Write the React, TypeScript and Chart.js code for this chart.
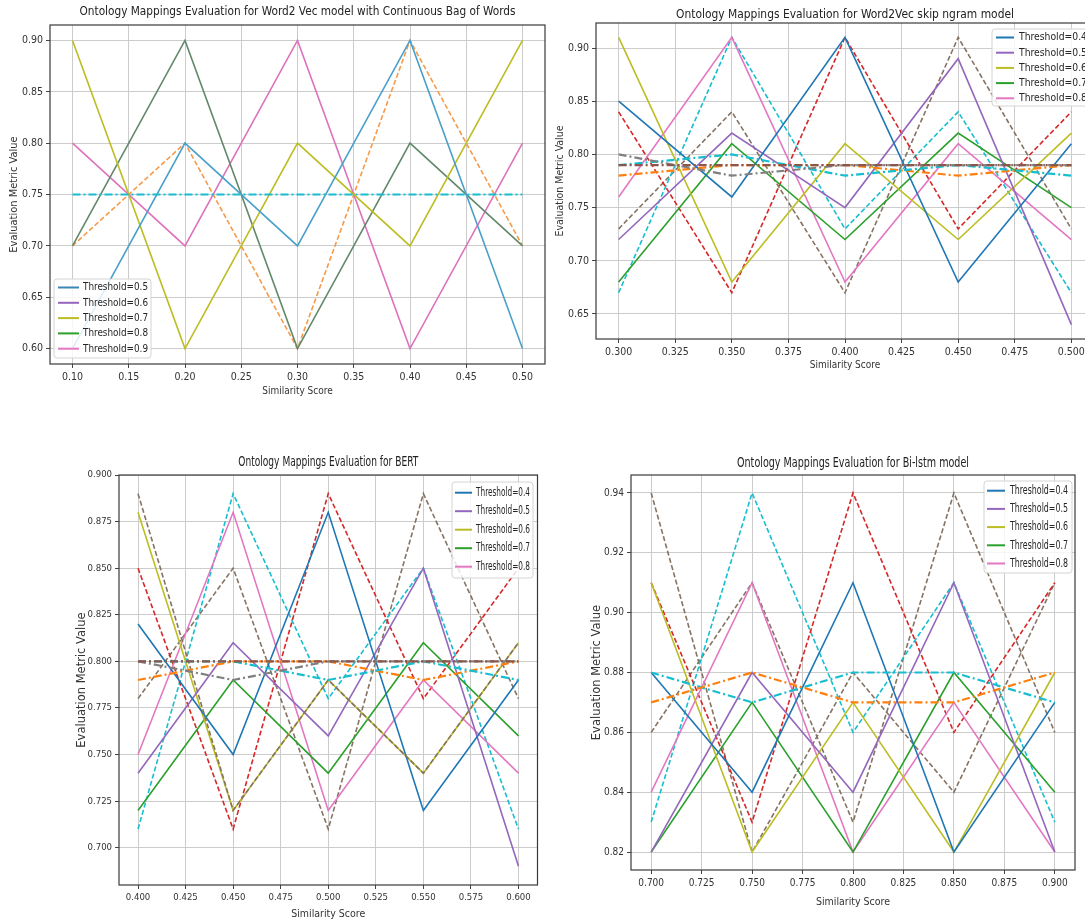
import React, { useEffect, useRef } from "react";
import { Chart, registerables } from "chart.js";

Chart.register(...registerables);

// ---------------- DATA ----------------
// Word2Vec CBOW
const CBOW_X = [0.1, 0.2, 0.3, 0.4, 0.5];
const CBOW_X_TICKS = [0.1, 0.15, 0.2, 0.25, 0.3, 0.35, 0.4, 0.45, 0.5];
const CBOW_Y_TICKS = [0.6, 0.65, 0.7, 0.75, 0.8, 0.85, 0.9];
const CBOW_LEGEND = ["Threshold=0.5", "Threshold=0.6", "Threshold=0.7", "Threshold=0.8", "Threshold=0.9"];
const CBOW_BLUE = [0.6, 0.8, 0.7, 0.9, 0.6];
const CBOW_OLIVE = [0.9, 0.6, 0.8, 0.7, 0.9];
const CBOW_GREEN = [0.7, 0.9, 0.6, 0.8, 0.7];
const CBOW_PINK = [0.8, 0.7, 0.9, 0.6, 0.8];
const CBOW_ORANGE_DASH = [0.7, 0.8, 0.6, 0.9, 0.7];
const CBOW_CYAN_DASHDOT = [0.75, 0.75, 0.75, 0.75, 0.75];

// Word2Vec skip-gram
const SKIP_X = [0.3, 0.35, 0.4, 0.45, 0.5];
const SKIP_X_TICKS = [0.3, 0.325, 0.35, 0.375, 0.4, 0.425, 0.45, 0.475, 0.5];
const SKIP_Y_TICKS = [0.65, 0.7, 0.75, 0.8, 0.85, 0.9];
const SKIP_LEGEND = ["Threshold=0.4", "Threshold=0.5", "Threshold=0.6", "Threshold=0.7", "Threshold=0.8"];
const SKIP_BLUE = [0.85, 0.76, 0.91, 0.68, 0.81];
const SKIP_PURPLE = [0.72, 0.82, 0.75, 0.89, 0.64];
const SKIP_OLIVE = [0.91, 0.68, 0.81, 0.72, 0.82];
const SKIP_GREEN = [0.68, 0.81, 0.72, 0.82, 0.75];
const SKIP_PINK = [0.76, 0.91, 0.68, 0.81, 0.72];
const SKIP_RED_DASH = [0.84, 0.67, 0.91, 0.73, 0.84];
const SKIP_CYAN_DASH = [0.67, 0.91, 0.73, 0.84, 0.67];
const SKIP_GRAY_DASH = [0.73, 0.84, 0.67, 0.91, 0.73];
const SKIP_ORANGE_DD = [0.78, 0.79, 0.79, 0.78, 0.79];
const SKIP_CYAN_DD = [0.79, 0.8, 0.78, 0.79, 0.78];
const SKIP_GRAY_DD = [0.8, 0.78, 0.79, 0.79, 0.79];
const SKIP_BROWN_DD = [0.79, 0.79, 0.79, 0.79, 0.79];

// BERT
const BERT_X = [0.4, 0.45, 0.5, 0.55, 0.6];
const BERT_X_TICKS = [0.4, 0.425, 0.45, 0.475, 0.5, 0.525, 0.55, 0.575, 0.6];
const BERT_Y_TICKS = [0.7, 0.725, 0.75, 0.775, 0.8, 0.825, 0.85, 0.875, 0.9];
const BERT_LEGEND = ["Threshold=0.4", "Threshold=0.5", "Threshold=0.6", "Threshold=0.7", "Threshold=0.8"];
const BERT_BLUE = [0.82, 0.75, 0.88, 0.72, 0.79];
const BERT_PURPLE = [0.74, 0.81, 0.76, 0.85, 0.69];
const BERT_OLIVE = [0.88, 0.72, 0.79, 0.74, 0.81];
const BERT_GREEN = [0.72, 0.79, 0.74, 0.81, 0.76];
const BERT_PINK = [0.75, 0.88, 0.72, 0.79, 0.74];
const BERT_RED_DASH = [0.85, 0.71, 0.89, 0.78, 0.85];
const BERT_CYAN_DASH = [0.71, 0.89, 0.78, 0.85, 0.71];
const BERT_BROWN_DASH = [0.78, 0.85, 0.71, 0.89, 0.78];
const BERT_GRAY_DASH = [0.89, 0.72, 0.79, 0.74, 0.81];
const BERT_ORANGE_DD = [0.79, 0.8, 0.8, 0.79, 0.8];
const BERT_CYAN_DD = [0.8, 0.8, 0.79, 0.8, 0.79];
const BERT_GRAY_DD = [0.8, 0.79, 0.8, 0.8, 0.8];
const BERT_BROWN_DD = [0.8, 0.8, 0.8, 0.8, 0.8];

// Bi-LSTM
const LSTM_X = [0.7, 0.75, 0.8, 0.85, 0.9];
const LSTM_X_TICKS = [0.7, 0.725, 0.75, 0.775, 0.8, 0.825, 0.85, 0.875, 0.9];
const LSTM_Y_TICKS = [0.82, 0.84, 0.86, 0.88, 0.9, 0.92, 0.94];
const LSTM_LEGEND = ["Threshold=0.4", "Threshold=0.5", "Threshold=0.6", "Threshold=0.7", "Threshold=0.8"];
const LSTM_BLUE = [0.88, 0.84, 0.91, 0.82, 0.87];
const LSTM_PURPLE = [0.82, 0.88, 0.84, 0.91, 0.82];
const LSTM_OLIVE = [0.91, 0.82, 0.87, 0.82, 0.88];
const LSTM_GREEN = [0.82, 0.87, 0.82, 0.88, 0.84];
const LSTM_PINK = [0.84, 0.91, 0.82, 0.87, 0.82];
const LSTM_RED_DASH = [0.91, 0.83, 0.94, 0.86, 0.91];
const LSTM_CYAN_DASH = [0.83, 0.94, 0.86, 0.91, 0.83];
const LSTM_BROWN_DASH = [0.86, 0.91, 0.83, 0.94, 0.86];
const LSTM_GRAY_DASH = [0.94, 0.82, 0.88, 0.84, 0.91];
const LSTM_ORANGE_DD = [0.87, 0.88, 0.87, 0.87, 0.88];
const LSTM_CYAN_DD = [0.88, 0.87, 0.88, 0.88, 0.87];

// ---------------- STYLE ----------------
const C = {
  blue: "#1f77b4",
  orange: "#ff7f0e",
  green: "#2ca02c",
  red: "#d62728",
  purple: "#9467bd",
  brown: "#8c564b",
  pink: "#e377c2",
  gray: "#7f7f7f",
  olive: "#bcbd22",
  cyan: "#17becf",
};
const TAB_LEGEND = [C.blue, C.purple, C.olive, C.green, C.pink];
const FONT = "'Liberation Sans Narrow', 'DejaVu Sans Condensed', 'Liberation Sans', sans-serif";
const YFONT = "'DejaVu Sans', sans-serif";

type Kind = "solid" | "dash" | "dashdot";
type Series = { data: number[]; color: string; kind: Kind };

type Spec = {
  canvas: { left: number; top: number; width: number; height: number };
  frame: { l: number; t: number; r: number; b: number };
  title: string;
  titleY: number;
  titleSize: number;
  titleWidth: number;
  xLabelY: number;
  yLabelX: number;
  labelSize: number;
  yLabelSize: number;
  yLabelFont: string;
  tickSize: number;
  xRange: [number, number];
  yRange: [number, number];
  xs: number[];
  xTicks: number[];
  yTicks: number[];
  xDigits: number;
  yDigits: number;
  series: Series[];
  legend: {
    labels: string[];
    colors: string[];
    box: { l: number; t: number; r: number; b: number };
    row0: number;
    rowStep: number;
    line0: number;
    line1: number;
    textX: number;
    textW: number;
    size: number;
  };
};

const S = (data: number[], color: string, kind: Kind): Series => ({ data, color, kind });

const PLOTS: Spec[] = [
  {
    canvas: { left: 0, top: 0, width: 552, height: 400 },
    frame: { l: 50, t: 25, r: 545, b: 364 },
    title: "Ontology Mappings Evaluation for Word2 Vec model with Continuous Bag of Words",
    titleY: 12,
    titleSize: 13,
    titleWidth: 436,
    xLabelY: 391,
    yLabelX: 14,
    labelSize: 10,
    yLabelSize: 11,
    yLabelFont: FONT,
    tickSize: 10.5,
    xRange: [0.08, 0.52],
    yRange: [0.585, 0.915],
    xs: CBOW_X,
    xTicks: CBOW_X_TICKS,
    yTicks: CBOW_Y_TICKS,
    xDigits: 2,
    yDigits: 2,
    series: [
      S(CBOW_CYAN_DASHDOT, C.cyan, "dashdot"),
      S(CBOW_BLUE, "#4aa0c9", "solid"),
      S(CBOW_OLIVE, C.olive, "solid"),
      S(CBOW_GREEN, "#62896b", "solid"),
      S(CBOW_PINK, "#de72bd", "solid"),
      S(CBOW_ORANGE_DASH, "#f59a4a", "dash"),
    ],
    legend: {
      labels: CBOW_LEGEND,
      colors: ["#3b86b8", C.purple, C.olive, C.green, C.pink],
      box: { l: 54, t: 279, r: 151, b: 358 },
      row0: 287.5,
      rowStep: 15.3,
      line0: 58,
      line1: 79,
      textX: 83,
      textW: 65,
      size: 11,
    },
  },
  {
    canvas: { left: 548, top: 0, width: 562, height: 380 },
    frame: { l: 596, t: 23, r: 1094, b: 339 },
    title: "Ontology Mappings Evaluation for Word2Vec skip ngram model",
    titleY: 15,
    titleSize: 13,
    titleWidth: 338,
    xLabelY: 365,
    yLabelX: 560,
    labelSize: 10,
    yLabelSize: 10.5,
    yLabelFont: FONT,
    tickSize: 10.5,
    xRange: [0.29, 0.51],
    yRange: [0.6265, 0.9235],
    xs: SKIP_X,
    xTicks: SKIP_X_TICKS,
    yTicks: SKIP_Y_TICKS,
    xDigits: 3,
    yDigits: 2,
    series: [
      S(SKIP_BROWN_DD, C.brown, "dashdot"),
      S(SKIP_GRAY_DD, C.gray, "dashdot"),
      S(SKIP_CYAN_DD, C.cyan, "dashdot"),
      S(SKIP_ORANGE_DD, C.orange, "dashdot"),
      S(SKIP_BLUE, C.blue, "solid"),
      S(SKIP_PURPLE, C.purple, "solid"),
      S(SKIP_OLIVE, C.olive, "solid"),
      S(SKIP_GREEN, C.green, "solid"),
      S(SKIP_PINK, C.pink, "solid"),
      S(SKIP_RED_DASH, C.red, "dash"),
      S(SKIP_CYAN_DASH, C.cyan, "dash"),
      S(SKIP_GRAY_DASH, "#857363", "dash"),
    ],
    legend: {
      labels: SKIP_LEGEND,
      colors: TAB_LEGEND,
      box: { l: 992, t: 29, r: 1104, b: 106 },
      row0: 37.5,
      rowStep: 15.2,
      line0: 996,
      line1: 1014,
      textX: 1019,
      textW: 68,
      size: 11,
    },
  },
  {
    canvas: { left: 70, top: 445, width: 475, height: 477 },
    frame: { l: 119, t: 475, r: 537.5, b: 885 },
    title: "Ontology Mappings Evaluation for BERT",
    titleY: 462,
    titleSize: 14.5,
    titleWidth: 180,
    xLabelY: 914,
    yLabelX: 82,
    labelSize: 10.5,
    yLabelSize: 11.5,
    yLabelFont: YFONT,
    tickSize: 9.5,
    xRange: [0.39, 0.61],
    yRange: [0.68, 0.9],
    xs: BERT_X,
    xTicks: BERT_X_TICKS,
    yTicks: BERT_Y_TICKS,
    xDigits: 3,
    yDigits: 3,
    series: [
      S(BERT_BROWN_DD, C.brown, "dashdot"),
      S(BERT_GRAY_DD, C.gray, "dashdot"),
      S(BERT_CYAN_DD, C.cyan, "dashdot"),
      S(BERT_ORANGE_DD, C.orange, "dashdot"),
      S(BERT_GRAY_DASH, "#857363", "dash"),
      S(BERT_BLUE, C.blue, "solid"),
      S(BERT_PURPLE, C.purple, "solid"),
      S(BERT_OLIVE, C.olive, "solid"),
      S(BERT_GREEN, C.green, "solid"),
      S(BERT_PINK, C.pink, "solid"),
      S(BERT_RED_DASH, C.red, "dash"),
      S(BERT_CYAN_DASH, C.cyan, "dash"),
      S(BERT_BROWN_DASH, "#857363", "dash"),
    ],
    legend: {
      labels: BERT_LEGEND,
      colors: TAB_LEGEND,
      box: { l: 452, t: 482, r: 533, b: 578 },
      row0: 492.7,
      rowStep: 18.5,
      line0: 455,
      line1: 472,
      textX: 476,
      textW: 54,
      size: 12.5,
    },
  },
  {
    canvas: { left: 585, top: 445, width: 500, height: 477 },
    frame: { l: 631, t: 475, r: 1075, b: 870 },
    title: "Ontology Mappings Evaluation for Bi-lstm model",
    titleY: 463,
    titleSize: 14.5,
    titleWidth: 232,
    xLabelY: 902,
    yLabelX: 597,
    labelSize: 10.5,
    yLabelSize: 11.5,
    yLabelFont: YFONT,
    tickSize: 10,
    xRange: [0.69, 0.91],
    yRange: [0.814, 0.946],
    xs: LSTM_X,
    xTicks: LSTM_X_TICKS,
    yTicks: LSTM_Y_TICKS,
    xDigits: 3,
    yDigits: 2,
    series: [
      S(LSTM_ORANGE_DD, C.orange, "dashdot"),
      S(LSTM_CYAN_DD, C.cyan, "dashdot"),
      S(LSTM_BLUE, C.blue, "solid"),
      S(LSTM_PURPLE, C.purple, "solid"),
      S(LSTM_OLIVE, C.olive, "solid"),
      S(LSTM_GREEN, C.green, "solid"),
      S(LSTM_PINK, C.pink, "solid"),
      S(LSTM_RED_DASH, C.red, "dash"),
      S(LSTM_CYAN_DASH, C.cyan, "dash"),
      S(LSTM_BROWN_DASH, "#857363", "dash"),
      S(LSTM_GRAY_DASH, "#857363", "dash"),
    ],
    legend: {
      labels: LSTM_LEGEND,
      colors: TAB_LEGEND,
      box: { l: 984, t: 481, r: 1072, b: 573 },
      row0: 490.7,
      rowStep: 18.2,
      line0: 987,
      line1: 1005,
      textX: 1010,
      textW: 58,
      size: 12.5,
    },
  },
];

// ---------------- PLUGIN: title + frame + legend ----------------
const frameLegendPlugin = {
  id: "frameLegend",
  afterDatasetsDraw(chart: any, _args: any, opts: any) {
    const { ctx, chartArea } = chart;
    const { left, top, right, bottom } = chartArea;
    const ox = opts.originX;
    const oy = opts.originY;
    ctx.save();
    // axes frame (all four spines)
    ctx.strokeStyle = "#3a3a3a";
    ctx.lineWidth = 1.2;
    ctx.setLineDash([]);
    ctx.strokeRect(left, top, right - left, bottom - top);
    // title centered over the axes
    const t = opts.title;
    if (t) {
      ctx.font = `${t.size}px ${FONT}`;
      ctx.fillStyle = "#222";
      ctx.textAlign = "center";
      ctx.textBaseline = "middle";
      ctx.fillText(t.text, (left + right) / 2, t.y - oy, t.width);
    }
    // legend
    const lg = opts.legend;
    if (lg) {
      const bx = lg.box.l - ox;
      const by = lg.box.t - oy;
      const bw = lg.box.r - lg.box.l;
      const bh = lg.box.b - lg.box.t;
      const r = 3;
      ctx.beginPath();
      ctx.moveTo(bx + r, by);
      ctx.lineTo(bx + bw - r, by);
      ctx.quadraticCurveTo(bx + bw, by, bx + bw, by + r);
      ctx.lineTo(bx + bw, by + bh - r);
      ctx.quadraticCurveTo(bx + bw, by + bh, bx + bw - r, by + bh);
      ctx.lineTo(bx + r, by + bh);
      ctx.quadraticCurveTo(bx, by + bh, bx, by + bh - r);
      ctx.lineTo(bx, by + r);
      ctx.quadraticCurveTo(bx, by, bx + r, by);
      ctx.closePath();
      ctx.fillStyle = "rgba(255,255,255,0.82)";
      ctx.fill();
      ctx.strokeStyle = "#d4d4d4";
      ctx.lineWidth = 1;
      ctx.stroke();
      ctx.font = `${lg.size}px ${FONT}`;
      ctx.textBaseline = "middle";
      ctx.textAlign = "left";
      lg.labels.forEach((label: string, i: number) => {
        const y = lg.row0 + i * lg.rowStep - oy;
        ctx.strokeStyle = lg.colors[i];
        ctx.lineWidth = 2;
        ctx.beginPath();
        ctx.moveTo(lg.line0 - ox, y);
        ctx.lineTo(lg.line1 - ox, y);
        ctx.stroke();
        ctx.fillStyle = "#262626";
        ctx.fillText(label, lg.textX - ox, y, lg.textW);
      });
    }
    ctx.restore();
  },
};

function buildConfig(p: Spec): any {
  const cv = p.canvas;
  const yAxisW = p.frame.l - cv.left;
  const xAxisH = cv.top + cv.height - p.frame.b;
  const padRight = cv.left + cv.width - p.frame.r;
  const padTop = p.frame.t - cv.top;
  const lLH = p.labelSize * 1.2;
  const yLH = p.yLabelSize * 1.2;
  const xTitlePadBottom = cv.top + cv.height - p.xLabelY - lLH / 2;
  const yTitlePadTop = p.yLabelX - cv.left - yLH / 2;

  const datasets = p.series.map((s) => ({
    data: p.xs.map((x, i) => ({ x, y: s.data[i] })),
    borderColor: s.color,
    backgroundColor: s.color,
    borderWidth: s.kind === "dashdot" ? 2.2 : 1.6,
    borderDash: s.kind === "dash" ? [5, 2.5] : s.kind === "dashdot" ? [8, 3, 2, 3] : [],
    pointRadius: 0,
    tension: 0,
    fill: false,
  }));

  const gridCommon = {
    color: "#cccccc",
    lineWidth: 1,
    tickColor: "#444",
    tickLength: 4,
    drawTicks: true,
  };

  return {
    type: "line",
    data: { datasets },
    options: {
      responsive: false,
      animation: false,
      layout: { padding: { left: 0, top: padTop, bottom: 0, right: padRight }, autoPadding: false },
      plugins: {
        legend: { display: false },
        tooltip: { enabled: false },
        title: { display: false },
        frameLegend: {
          legend: p.legend,
          title: { text: p.title, y: p.titleY, size: p.titleSize, width: p.titleWidth },
          originX: cv.left,
          originY: cv.top,
        },
      },
      scales: {
        x: {
          type: "linear",
          min: p.xRange[0],
          max: p.xRange[1],
          afterFit: (scale: any) => {
            scale.height = xAxisH;
          },
          afterBuildTicks: (scale: any) => {
            scale.ticks = p.xTicks.map((v) => ({ value: v }));
          },
          grid: gridCommon,
          border: { display: false },
          ticks: {
            autoSkip: false,
            maxRotation: 0,
            padding: 3,
            color: "#333",
            font: { family: FONT, size: p.tickSize },
            callback: (v: any) => Number(v).toFixed(p.xDigits),
          },
          title: {
            display: true,
            text: "Similarity Score",
            color: "#333",
            font: { family: FONT, size: p.labelSize, lineHeight: 1.2 },
            padding: { top: 0, bottom: xTitlePadBottom },
          },
        },
        y: {
          type: "linear",
          min: p.yRange[0],
          max: p.yRange[1],
          afterFit: (scale: any) => {
            scale.width = yAxisW;
          },
          afterBuildTicks: (scale: any) => {
            scale.ticks = p.yTicks.map((v) => ({ value: v }));
          },
          grid: gridCommon,
          border: { display: false },
          ticks: {
            autoSkip: false,
            padding: 3,
            color: "#333",
            font: { family: FONT, size: p.tickSize },
            callback: (v: any) => Number(v).toFixed(p.yDigits),
          },
          title: {
            display: true,
            text: "Evaluation Metric Value",
            color: "#333",
            font: { family: p.yLabelFont, size: p.yLabelSize, lineHeight: 1.2 },
            padding: { top: yTitlePadTop, bottom: 0 },
          },
        },
      },
    },
    plugins: [frameLegendPlugin],
  };
}

function Plot({ spec }: { spec: Spec }) {
  const ref = useRef<HTMLCanvasElement | null>(null);
  useEffect(() => {
    if (!ref.current) return;
    const chart = new Chart(ref.current, buildConfig(spec));
    return () => chart.destroy();
  }, [spec]);
  const { left, top, width, height } = spec.canvas;
  return (
    <canvas
      ref={ref}
      width={width}
      height={height}
      style={{ position: "absolute", left, top, width, height }}
    />
  );
}

export default function App() {
  return (
    <div
      style={{
        position: "absolute",
        left: 0,
        top: 0,
        width: 1085,
        height: 922,
        overflow: "hidden",
        background: "#ffffff",
      }}
    >
      {PLOTS.map((p, i) => (
        <Plot key={i} spec={p} />
      ))}
    </div>
  );
}
